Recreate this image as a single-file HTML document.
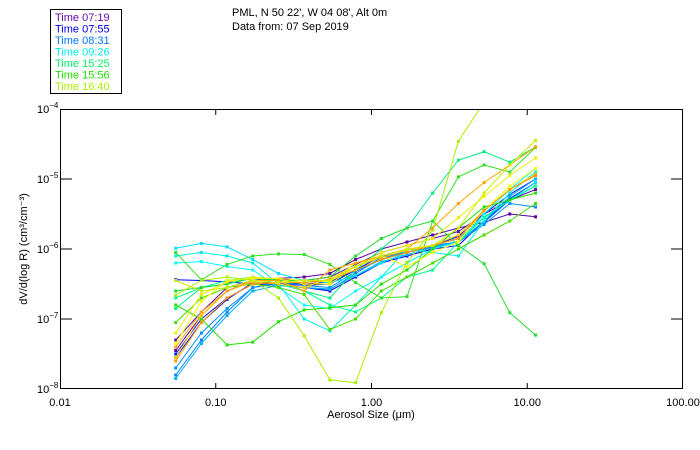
<!DOCTYPE html>
<html><head><meta charset="utf-8"><style>
html,body{margin:0;padding:0;background:#fff;}
svg{display:block;font-family:"Liberation Sans",sans-serif;}
</style></head><body>
<svg id="chart" width="700" height="450" viewBox="0 0 700 450">
<rect x="0" y="0" width="700" height="450" fill="#fff"/>
<g>
<rect x="50.5" y="9.5" width="71" height="84" fill="none" stroke="#000"/>
<g font-size="11" id="legendText"></g>
</g>
<text x="232" y="16" font-size="11">PML, N 50 22', W 04 08', Alt 0m</text>
<text x="232" y="30" font-size="11">Data from: 07 Sep 2019</text>
<defs><clipPath id="pc"><rect x="60" y="109" width="623" height="280"/></clipPath></defs>
<g id="series" clip-path="url(#pc)"></g>
<rect x="60.5" y="109.5" width="622" height="279" fill="none" stroke="#000"/>
<g id="axes" font-size="11"></g>
<text x="371" y="418" font-size="11" text-anchor="middle">Aerosol Size (μm)</text>
<text transform="translate(27,249) rotate(-90)" font-size="11" text-anchor="middle">dV/d(log R) (cm³/cm⁻³)</text>
</svg>
<script>
const legendLabels=["Time 07:19","Time 07:55","Time 08:31","Time 09:26","Time 15:25","Time 15:56","Time 16:40"];
const legendColors=["#6a0dad","#0000ee","#0077ff","#00eeee","#00ee66","#22dd00","#aaee00"];
const xTicks=[0.01,0.1,1,10,100];
const xTickLabels=["0.01","0.10","1.00","10.00","100.00"];
const yTicks=[-8,-7,-6,-5,-4];
const binStartLog=-1.257;
const binStepLog=0.165;
const seriesColors=["#5a00a0","#6010b0","#0000ff","#1010e0","#0020ff","#0080ff","#0090ff","#00b0ff","#00e0ff","#00f0e0","#00ffff","#00ff90","#00ee80","#30e020","#20e000","#20dd30","#44dd00","#aaee00","#ffff00","#eeee00","#ffcc00","#ffa500","#ff9900","#ccee00"];
const seriesLogValues=[
[-7.45,-6.95,-6.60,-6.45,-6.42,-6.40,-6.35,-6.15,-6.00,-5.90,-5.80,-5.70,-5.62,-5.50,-5.54],
[-7.30,-6.90,-6.55,-6.45,-6.43,-6.45,-6.40,-6.22,-6.05,-5.95,-5.85,-5.75,-5.50,-5.30,-5.15],
[-6.44,-6.45,-6.47,-6.50,-6.52,-6.55,-6.60,-6.40,-6.20,-6.10,-6.00,-5.95,-5.60,-5.30,-5.05],
[-7.55,-7.05,-6.72,-6.48,-6.48,-6.50,-6.47,-6.30,-6.15,-6.05,-5.95,-5.82,-5.50,-5.22,-5.00],
[-7.50,-7.00,-6.70,-6.50,-6.50,-6.52,-6.50,-6.30,-6.10,-6.05,-5.95,-5.85,-5.55,-5.28,-5.05],
[-7.80,-7.30,-6.90,-6.55,-6.50,-6.55,-6.58,-6.35,-6.12,-6.05,-5.97,-5.90,-5.62,-5.30,-5.10],
[-7.70,-7.20,-6.85,-6.55,-6.47,-6.52,-6.55,-6.32,-6.15,-6.02,-5.95,-5.90,-5.65,-5.35,-5.40],
[-7.85,-7.35,-6.95,-6.60,-6.52,-6.55,-6.57,-6.38,-6.18,-6.08,-5.98,-5.90,-5.60,-5.25,-5.00],
[-5.99,-5.92,-5.97,-6.15,-6.35,-6.45,-6.48,-6.38,-6.20,-6.05,-5.95,-5.85,-5.55,-5.30,-5.05],
[-6.10,-6.05,-6.10,-6.20,-6.50,-7.00,-7.17,-6.80,-6.40,-6.00,-6.05,-6.10,-5.60,-5.20,-4.90],
[-6.20,-6.18,-6.25,-6.30,-6.55,-6.80,-6.85,-6.60,-6.40,-6.20,-6.00,-5.90,-5.50,-5.15,-4.85],
[-6.70,-6.55,-6.45,-6.40,-6.50,-6.60,-6.80,-6.90,-6.70,-6.40,-6.30,-5.90,-5.55,-5.30,-5.10],
[-6.85,-6.55,-6.50,-6.40,-6.45,-6.60,-6.70,-6.30,-6.00,-5.70,-5.20,-4.73,-4.61,-4.76,-4.54],
[-6.05,-6.44,-6.22,-6.10,-6.07,-6.08,-6.22,-6.48,-6.70,-6.68,-5.60,-4.97,-4.80,-4.90,-4.55],
[-6.80,-7.00,-7.37,-7.33,-7.04,-6.87,-6.84,-6.80,-6.50,-6.30,-6.00,-5.70,-5.40,-5.30,-5.20],
[-6.60,-6.55,-6.50,-6.42,-6.45,-6.45,-6.40,-6.10,-5.85,-5.70,-5.60,-5.95,-6.21,-6.91,-7.23],
[-7.05,-6.70,-6.55,-6.50,-6.55,-6.65,-7.15,-7.00,-6.60,-6.40,-6.20,-6.00,-5.80,-5.60,-5.35],
[-6.66,-6.45,-6.40,-6.45,-6.70,-7.24,-7.87,-7.91,-6.91,-6.19,-5.73,-4.46,-3.90,-3.50,-3.20],
[-7.35,-6.75,-6.45,-6.42,-6.42,-6.45,-6.47,-6.20,-6.10,-6.25,-6.05,-5.90,-5.45,-5.10,-4.85],
[-7.20,-6.65,-6.47,-6.40,-6.43,-6.50,-6.50,-6.25,-6.05,-5.95,-5.85,-5.55,-5.25,-4.95,-4.70],
[-7.55,-6.95,-6.60,-6.47,-6.50,-6.55,-6.42,-6.25,-6.12,-6.02,-5.95,-5.80,-5.45,-5.15,-4.93],
[-7.40,-6.90,-6.60,-6.45,-6.45,-6.60,-6.30,-6.20,-6.10,-6.00,-5.70,-5.35,-5.05,-4.80,-4.54],
[-7.60,-7.05,-6.70,-6.50,-6.48,-6.48,-6.44,-6.30,-6.15,-6.05,-5.95,-5.85,-5.45,-5.15,-4.95],
[-6.45,-6.60,-6.55,-6.45,-6.48,-6.45,-6.45,-6.25,-6.10,-6.00,-5.95,-5.70,-5.20,-4.80,-4.45]
];
const NS="http://www.w3.org/2000/svg";
const L=60,R=683,T=109,B=389;
function xScale(logv){return L+(logv+2)*(R-L)/4;}
function yScale(logv){return B-(logv+8)*(B-T)/4;}
function mk(tag,attrs,parent){const e=document.createElementNS(NS,tag);for(const k in attrs)e.setAttribute(k,attrs[k]);parent.appendChild(e);return e;}
const lg=document.getElementById('legendText');
legendLabels.forEach((t,i)=>{
 const e=mk('text',{x:55,y:21+i*11.5,fill:legendColors[i]},lg);
 
 
 e.textContent=t;
});
const ax=document.getElementById('axes');
xTicks.forEach((v,i)=>{
 const x=xScale(Math.log10(v));
 if(i>0&&i<xTicks.length-1){
  const t1=mk('line',{x1:x,y1:B,x2:x,y2:B-6,stroke:'#000'},ax);
  
  
  const t2=mk('line',{x1:x,y1:T,x2:x,y2:T+6,stroke:'#000'},ax);
  
  
 }
 const lb=mk('text',{x:x,y:406,'text-anchor':'middle'},ax);
 
 
 lb.textContent=xTickLabels[i];
});
yTicks.forEach((v,i)=>{
 const y=yScale(v);
 if(i>0&&i<yTicks.length-1){
  const t1=mk('line',{x1:L,y1:y,x2:L+12,y2:y,stroke:'#000'},ax);
  
  
  const t2=mk('line',{x1:R,y1:y,x2:R-12,y2:y,stroke:'#000'},ax);
  
  
 }
 const lb=mk('text',{x:37,y:y+4},ax);
 
 
 lb.textContent='10';
 const sp=mk('tspan',{dy:-5,'font-size':8},lb);
 sp.textContent='−'+Math.abs(v);
});
const sg=document.getElementById('series');
seriesLogValues.forEach((vals,si)=>{
 const c=seriesColors[si%seriesColors.length];
 const g=mk('g',{},sg);
 
 
 const pts=vals.map((v,i)=>xScale(binStartLog+i*binStepLog).toFixed(1)+','+yScale(v).toFixed(1)).join(' ');
 mk('polyline',{points:pts,fill:'none',stroke:c,'stroke-width':1},g);
 vals.forEach((v,i)=>{
  const p=mk('rect',{x:xScale(binStartLog+i*binStepLog)-1.5,y:yScale(v)-1.5,width:3,height:3,fill:c},g);
  
  
 });
});
</script>
</body></html>
